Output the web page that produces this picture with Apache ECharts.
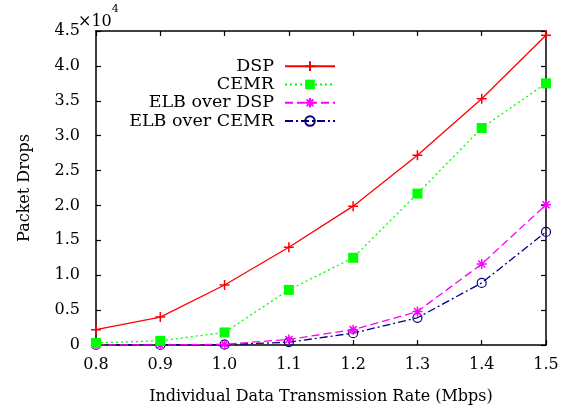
<!DOCTYPE html>
<html><head><meta charset="utf-8">
<script src="https://cdn.jsdelivr.net/npm/echarts@6/dist/echarts.min.js"></script>
<style>html,body{margin:0;padding:0;background:#fff}#c{width:570px;height:410px}</style>
</head><body><div id="c"></div>
<script>
const categories = ['0.8','0.9','1.0','1.1','1.2','1.3','1.4','1.5'];
const dsp        = [2200, 4000, 8600, 14000, 19900, 27200, 35300, 44400];
const cemr       = [300, 600, 1800, 7900, 12500, 21700, 31100, 37500];
const elbDsp     = [0, 0, 100, 800, 2200, 4800, 11600, 20100];
const elbCemr    = [0, 0, 50, 400, 1700, 3900, 8900, 16200];
const seriesNames = ['DSP','CEMR','ELB over DSP','ELB over CEMR'];
const yTicks = [0, 5000, 10000, 15000, 20000, 25000, 30000, 35000, 40000, 45000];

const FONT = 'DejaVu Serif';
const plus = 'path://M5,0L5,10M0,5L10,5';
const star = 'path://M5,0L5,10M0,5L10,5M1.5,1.5L8.5,8.5M1.5,8.5L8.5,1.5';

const chart = echarts.init(document.getElementById('c'), null, {renderer:'canvas'});
const axisCommonX = {
  type:'category', data: categories, boundaryGap:false,
  axisLine:{show:true, onZero:false, lineStyle:{color:'#000', width:1.5}},
  axisTick:{show:true, inside:true, length:5, alignWithLabel:true, lineStyle:{color:'#000', width:1.2}},
  splitLine:{show:false}
};
const axisCommonY = {
  type:'value', min:0, max:45000, interval:5000,
  axisLine:{show:true, lineStyle:{color:'#000', width:1.5}},
  axisTick:{show:true, inside:true, length:5, lineStyle:{color:'#000', width:1.2}},
  splitLine:{show:false}
};
chart.setOption({
  animation:false,
  backgroundColor:'#fff',
  textStyle:{fontFamily:FONT},
  grid:{left:96, right:24, top:31, bottom:65, containLabel:false, outerBoundsMode:'none'},
  legend:{
    orient:'vertical', right:234, top:57, align:'right',
    itemWidth:50, itemHeight:12, itemGap:0, padding:0,
    textStyle:{fontFamily:FONT, fontSize:17.5, color:'#000', lineHeight:18.3, padding:[0,6,0,0]},
    data: seriesNames
  },
  xAxis:[
    Object.assign({}, axisCommonX, {position:'bottom',
      name:'Individual Data Transmission Rate (Mbps)', nameLocation:'middle', nameGap:44,
      nameTextStyle:{fontFamily:FONT, fontSize:16, color:'#000'},
      axisLabel:{fontFamily:FONT, fontSize:16, color:'#000', margin:12}}),
    Object.assign({}, axisCommonX, {position:'top', axisLabel:{show:false}})
  ],
  yAxis:[
    Object.assign({}, axisCommonY, {position:'left',
      name:'Packet Drops', nameLocation:'middle', nameGap:63,
      nameTextStyle:{fontFamily:FONT, fontSize:16, color:'#000'},
      axisLabel:{fontFamily:FONT, fontSize:16, color:'#000', margin:16,
        formatter: v => v === 0 ? '0' : (v/1e4).toFixed(1)}}),
    Object.assign({}, axisCommonY, {position:'right', axisLabel:{show:false}})
  ],
  graphic:[{
    type:'text', left:78, top:4,
    style:{text:'{a|×10}{b|4}', rich:{
      a:{fontFamily:FONT, fontSize:16, fill:'#000', verticalAlign:'bottom', lineHeight:26},
      b:{fontFamily:FONT, fontSize:11, fill:'#000', verticalAlign:'top', lineHeight:26}
    }}
  }],
  series:[
    {name:seriesNames[0], type:'line', data:dsp, symbol:plus, symbolSize:10,
      lineStyle:{color:'#ff0000', width:1.3, type:'solid'},
      itemStyle:{color:'#ff0000', borderColor:'#ff0000', borderWidth:1.5}, z:4},
    {name:seriesNames[1], type:'line', data:cemr, symbol:'rect', symbolSize:10,
      lineStyle:{color:'#00ff00', width:1.3, type:[2,3]},
      itemStyle:{color:'#00ff00', borderWidth:0}, z:3},
    {name:seriesNames[2], type:'line', data:elbDsp, symbol:star, symbolSize:10,
      lineStyle:{color:'#ff00ff', width:1.3, type:[8,4]},
      itemStyle:{color:'#ff00ff', borderColor:'#ff00ff', borderWidth:1.5}, z:2},
    {name:seriesNames[3], type:'line', data:elbCemr, symbol:'circle', symbolSize:9,
      lineStyle:{color:'#000080', width:1.3, type:[8,3,2,3]},
      itemStyle:{color:'rgba(0,0,0,0)', borderColor:'#000080', borderWidth:1.2}, z:1}
  ]
});
</script></body></html>
